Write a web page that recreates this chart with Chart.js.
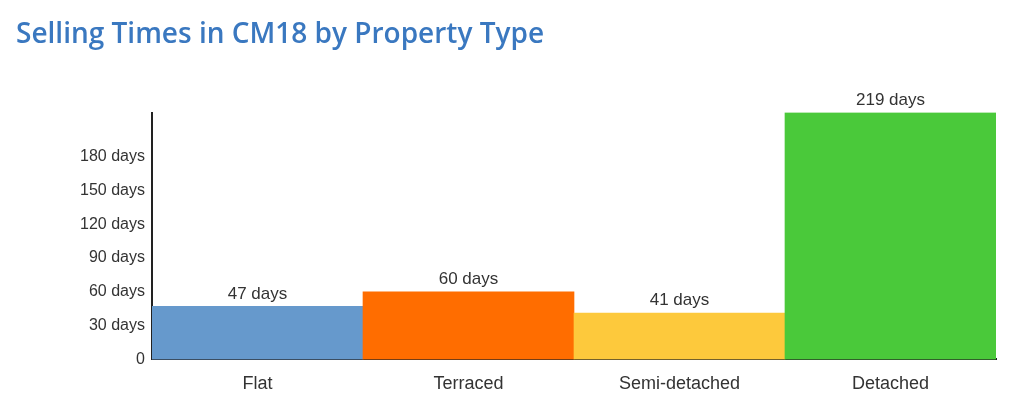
<!DOCTYPE html>
<html>
<head>
<meta charset="utf-8">
<script src="https://cdn.jsdelivr.net/npm/chart.js@4"></script>
<style>
  html, body { margin: 0; padding: 0; background: #fff; }
  #wrap { width: 1024px; height: 419px; }
</style>
</head>
<body>
<div id="wrap"><canvas id="chart" width="1024" height="419"></canvas></div>
<script>
// chart data
const categories = ['Flat', 'Terraced', 'Semi-detached', 'Detached'];
const sellingDays = [47, 60, 41, 219];
const barColors = ['#6699cc', '#ff6d00', '#fdc93c', '#4ac93a'];
const yTicks = [0, 30, 60, 90, 120, 150, 180];

// labels above each bar ("47 days")
const valueLabels = {
  id: 'valueLabels',
  afterDatasetsDraw(chart) {
    const ctx = chart.ctx;
    const meta = chart.getDatasetMeta(0);
    ctx.save();
    ctx.font = '17px "Liberation Sans", Arial, sans-serif';
    ctx.fillStyle = '#333';
    ctx.textAlign = 'center';
    ctx.textBaseline = 'bottom';
    meta.data.forEach((bar, i) => {
      ctx.fillText(sellingDays[i] + ' days', bar.x, bar.y - 4);
    });
    ctx.restore();
  }
};

new Chart(document.getElementById('chart'), {
  type: 'bar',
  data: {
    labels: categories,
    datasets: [{
      data: sellingDays,
      backgroundColor: barColors,
      borderWidth: 0,
      barPercentage: 1,
      categoryPercentage: 1
    }]
  },
  options: {
    responsive: false,
    animation: false,
    layout: { padding: { left: 16, right: 28, top: 0, bottom: 10 } },
    plugins: {
      legend: { display: false },
      tooltip: { enabled: false },
      title: {
        display: true,
        text: 'Selling Times in CM18 by Property Type',
        align: 'start',
        color: '#3a78c0',
        font: { family: '"Open Sans", sans-serif', size: 28, weight: '600' },
        padding: { top: 18, bottom: 61 }
      }
    },
    scales: {
      x: {
        grid: { display: false, drawTicks: false },
        border: { display: true, color: '#222', width: 2 },
        ticks: {
          color: '#333',
          padding: 14,
          font: { family: '"Liberation Sans", Arial, sans-serif', size: 18 }
        }
      },
      y: {
        min: 0,
        max: 219,
        afterBuildTicks: (axis) => { axis.ticks = yTicks.map(v => ({ value: v })); },
        afterFit: (axis) => { axis.width = 136; },
        grid: { display: false, drawTicks: false },
        border: { display: true, color: '#222', width: 2 },
        ticks: {
          color: '#333',
          padding: 7,
          font: { family: '"Liberation Sans", Arial, sans-serif', size: 16 },
          callback: (v) => v === 0 ? '0' : v + ' days'
        }
      }
    }
  },
  plugins: [valueLabels]
});
</script>
</body>
</html>
